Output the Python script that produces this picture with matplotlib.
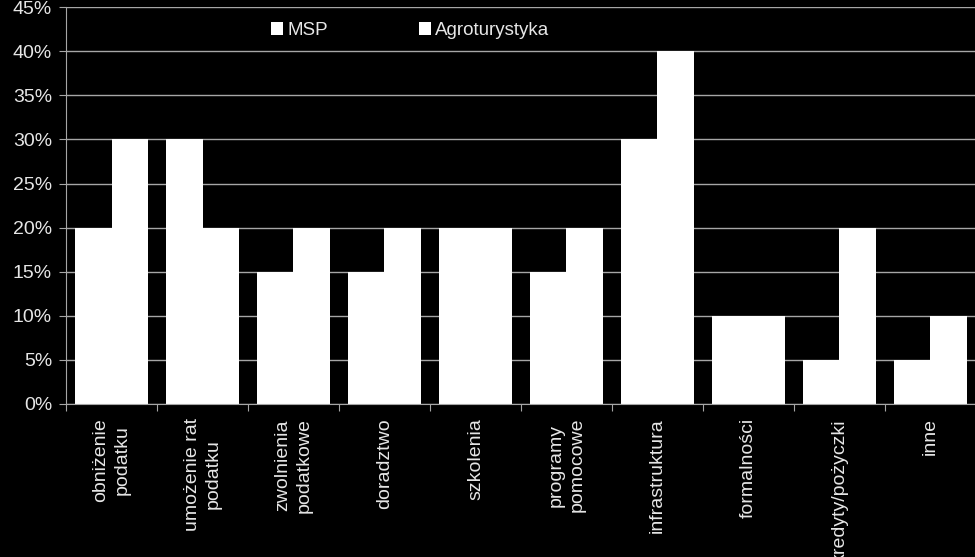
import matplotlib
matplotlib.use("Agg")
import matplotlib.pyplot as plt
import matplotlib.ticker as mticker
from matplotlib.patches import Patch
import numpy as np

# ─── data ─────────────────────────────────────────────────────────────────────
categories = ["obniżenie\npodatku", "umożenie rat\npodatku", "zwolnienia\npodatkowe",
              "doradztwo", "szkolenia", "programy\npomocowe", "infrastruktura",
              "formalności", "kredyty/pożyczki", "inne"]
msp = [20, 30, 15, 15, 20, 15, 30, 10, 5, 5]
agro = [30, 20, 20, 20, 20, 20, 40, 10, 20, 10]
series_names = ["MSP", "Agroturystyka"]

plt.rcParams["font.family"] = ["Liberation Sans", "DejaVu Sans"]
txt = "#e6e6e6"
grid = "#a6a6a6"

fig = plt.figure(figsize=(9.75, 5.57), dpi=100, facecolor="black")
ax = fig.add_axes([0.0677, 0.2747, 0.9333, 0.7123], facecolor="black")

x = np.arange(len(categories))
w = 0.4
ax.bar(x - w / 2, msp, w, color="white", zorder=3)
ax.bar(x + w / 2, agro, w, color="white", zorder=3)

ax.set_xlim(-0.5, len(categories) - 0.5)
ax.set_ylim(0, 45)
ax.yaxis.set_major_locator(mticker.MultipleLocator(5))
ax.yaxis.set_major_formatter(mticker.FuncFormatter(lambda v, _: f"{v:.0f}%"))
ax.grid(axis="y", color=grid, linewidth=1, zorder=0)

# category ticks sit between groups, labels centred under groups
ax.set_xticks(np.arange(len(categories) + 1) - 0.5)
ax.set_xticklabels([])
ax.tick_params(axis="x", which="major", length=5, color=grid, direction="out")
ax.set_xticks(x, minor=True)
ax.set_xticklabels(categories, minor=True, rotation=90, ha="center", va="top",
                   multialignment="center", fontsize=14, color=txt,
                   linespacing=1.3)
ax.tick_params(axis="x", which="minor", length=0, pad=10)
ax.tick_params(axis="y", length=5, color=grid, labelsize=14, labelcolor=txt, pad=5)

for side in ["top", "right"]:
    ax.spines[side].set_visible(False)
for side in ["left", "bottom"]:
    ax.spines[side].set_color(grid)
    ax.spines[side].set_zorder(4)

handles = [Patch(facecolor="white", edgecolor="none") for _ in series_names]
leg = fig.legend(handles, series_names, loc="center left", bbox_to_anchor=(0.278, 0.945),
                 ncol=2, frameon=False, fontsize=13.5, handlelength=0.65, handleheight=0.65,
                 handletextpad=0.25, columnspacing=4.8, borderaxespad=0, borderpad=0)
for t in leg.get_texts():
    t.set_color(txt)

fig.savefig("out.png", dpi=100, facecolor="black")
